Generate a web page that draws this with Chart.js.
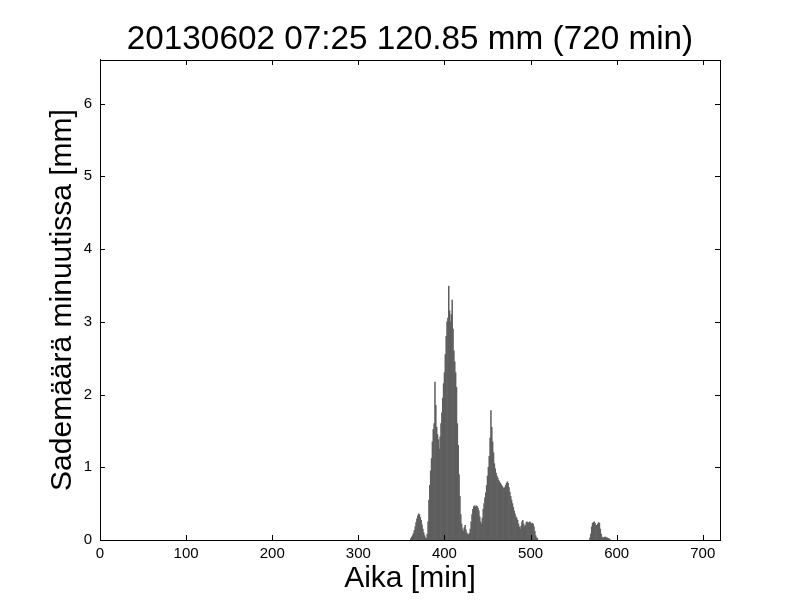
<!DOCTYPE html>
<html>
<head>
<meta charset="utf-8">
<title>Sademäärä</title>
<script src="https://cdn.jsdelivr.net/npm/chart.js@4.4.1/dist/chart.umd.min.js"></script>
<style>
  body { margin: 0; background: #fff; }
  #wrap { width: 800px; height: 600px; }
</style>
</head>
<body>
<div id="wrap"><canvas id="rainChart" width="800" height="600"></canvas></div>
<script>
// rain per minute, first burst starts at minute 361, second at 569
const burst1Start = 361;
const burst1 = [
  0.02, 0.04, 0.06, 0.09, 0.13, 0.18, 0.24, 0.29, 0.33, 0.36,
  0.35, 0.31, 0.27, 0.21, 0.15, 0.1, 0.06, 0.03, 0.02, 0.08,
  0.25, 0.55, 0.75, 0.95, 1.12, 1.35, 1.52, 1.6, 2.17, 1.85,
  1.55, 1.45, 1.38, 1.25, 1.42, 1.6, 1.75, 1.95, 2.15, 2.3,
  2.55, 2.8, 3.0, 3.05, 3.49, 3.15, 3.0, 3.1, 3.3, 2.9,
  2.6, 2.45, 2.3, 2.1, 1.6, 1.3, 0.9, 0.6, 0.35, 0.22,
  0.15, 0.12, 0.17, 0.2, 0.14, 0.1, 0.08, 0.07, 0.09, 0.15,
  0.25, 0.35, 0.42, 0.46, 0.47, 0.45, 0.47, 0.46, 0.44, 0.4,
  0.32, 0.25, 0.22, 0.3, 0.42, 0.5, 0.58, 0.65, 0.75, 0.88,
  1.0, 1.15, 1.4, 1.78, 1.55, 1.35, 1.2, 1.05, 0.98, 0.92,
  0.88, 0.85, 0.82, 0.8, 0.78, 0.76, 0.74, 0.72, 0.71, 0.72,
  0.75, 0.78, 0.8, 0.78, 0.72, 0.66, 0.6, 0.55, 0.5, 0.45,
  0.4, 0.36, 0.32, 0.3, 0.27, 0.22, 0.18, 0.15, 0.19, 0.25,
  0.27, 0.22, 0.18, 0.2, 0.24, 0.25, 0.23, 0.24, 0.25, 0.24,
  0.22, 0.23, 0.22, 0.18, 0.12, 0.06, 0.03, 0.02
];
const burst2Start = 569;
const burst2 = [
  0.03, 0.08, 0.18, 0.23, 0.24, 0.25, 0.23, 0.2, 0.2, 0.22,
  0.24, 0.23, 0.15, 0.08, 0.04, 0.03, 0.03, 0.04, 0.04, 0.03,
  0.03, 0.02, 0.02, 0.01
];
const xTicks = [0, 100, 200, 300, 400, 500, 600, 700];
const yTicks = [0, 1, 2, 3, 4, 5, 6];

const points = burst1.map((v, i) => ({ x: burst1Start + i, y: v }))
  .concat(burst2.map((v, i) => ({ x: burst2Start + i, y: v })));

const fontFamily = "'Liberation Sans', Arial, sans-serif";

// matplotlib style frame with ticks pointing inwards on all four sides
const frameTicks = {
  id: "frameTicks",
  afterDraw(chart) {
    const ctx = chart.ctx;
    const a = chart.chartArea;
    const xs = chart.scales.x;
    const ys = chart.scales.y;
    const len = 5;
    ctx.save();
    ctx.strokeStyle = "#000";
    ctx.lineWidth = 1;
    ctx.strokeRect(Math.round(a.left) + 0.5, Math.round(a.top) + 0.5,
      Math.round(a.right - a.left), Math.round(a.bottom - a.top));
    ctx.beginPath();
    xTicks.forEach((v) => {
      const px = Math.round(xs.getPixelForValue(v)) + 0.5;
      ctx.moveTo(px, a.bottom);
      ctx.lineTo(px, a.bottom - len);
      ctx.moveTo(px, a.top);
      ctx.lineTo(px, a.top + len);
    });
    yTicks.forEach((v) => {
      const py = Math.round(ys.getPixelForValue(v)) + 0.5;
      ctx.moveTo(a.left, py);
      ctx.lineTo(a.left + len, py);
      ctx.moveTo(a.right, py);
      ctx.lineTo(a.right - len, py);
    });
    ctx.stroke();
    ctx.restore();
  },
};

const rainChart = new Chart(document.getElementById("rainChart"), {
  type: "bar",
  data: {
    datasets: [
      {
        label: "Sademäärä",
        data: points,
        backgroundColor: "#5e5e5e",
        borderWidth: 0,
        barPercentage: 1,
        categoryPercentage: 1,
      },
    ],
  },
  options: {
    responsive: false,
    animation: false,
    layout: {
      padding: { left: 20, right: 0, top: 0, bottom: 3 },
    },
    plugins: {
      legend: { display: false },
      tooltip: { enabled: false },
      title: {
        display: true,
        text: "20130602 07:25 120.85 mm (720 min)",
        color: "#000",
        font: { family: fontFamily, size: 33.3, weight: "normal" },
        padding: { top: 20, bottom: 0 },
      },
    },
    scales: {
      x: {
        type: "linear",
        min: 0,
        max: 720,
        offset: false,
        afterBuildTicks: (scale) => {
          scale.ticks = xTicks.map((v) => ({ value: v }));
        },
        afterFit: (scale) => {
          scale.height = 57;
        },
        grid: { display: false, drawTicks: false },
        border: { display: true, color: "#000", width: 1 },
        ticks: {
          color: "#000",
          padding: 5,
          maxRotation: 0,
          font: { family: fontFamily, size: 15 },
        },
        title: {
          display: true,
          text: "Aika [min]",
          color: "#000",
          font: { family: fontFamily, size: 30 },
          padding: { top: 0, bottom: 0 },
        },
      },
      y: {
        min: 0,
        max: 6.6,
        afterBuildTicks: (scale) => {
          scale.ticks = yTicks.map((v) => ({ value: v }));
        },
        afterFit: (scale) => {
          scale.width = 80;
        },
        grid: { display: false, drawTicks: false },
        border: { display: true, color: "#000", width: 1 },
        ticks: {
          color: "#000",
          padding: 8,
          font: { family: fontFamily, size: 15 },
        },
        title: {
          display: true,
          text: "Sademäärä minuutissa [mm]",
          color: "#000",
          font: { family: fontFamily, size: 30 },
          padding: { top: 25, bottom: 0 },
        },
      },
      // empty right-hand axis, only keeps the plot at the same width as the reference
      yRight: {
        position: "right",
        min: 0,
        max: 6.6,
        afterFit: (scale) => {
          scale.width = 80;
        },
        grid: { display: false, drawTicks: false },
        border: { display: false },
        ticks: { display: false },
      },
    },
  },
  plugins: [frameTicks],
});
</script>
</body>
</html>
